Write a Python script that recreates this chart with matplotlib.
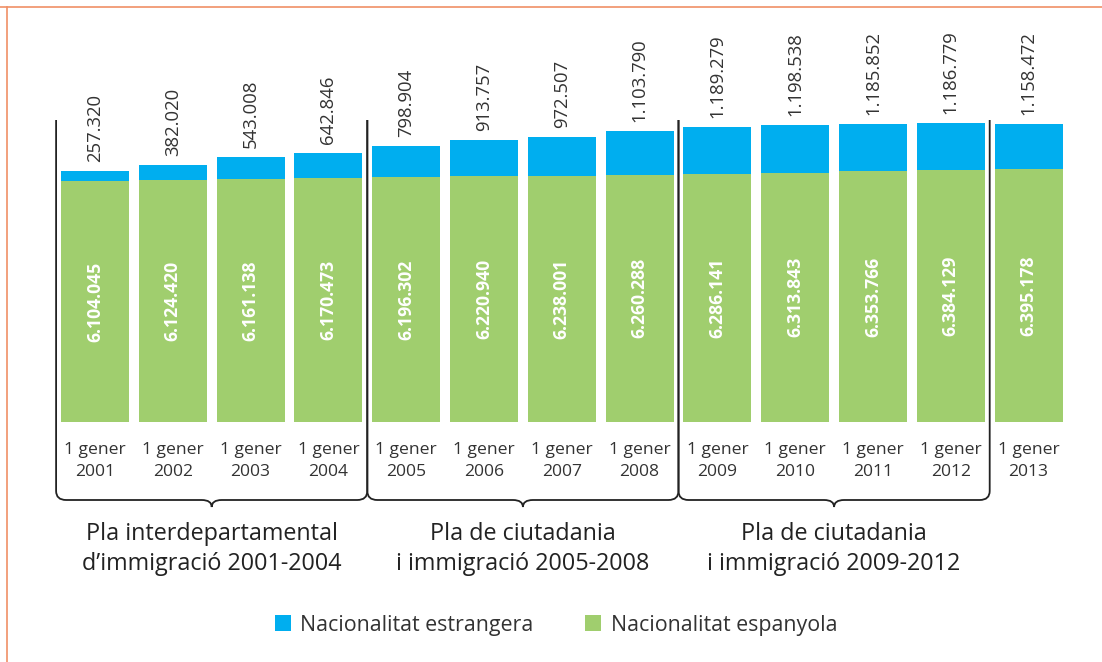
import numpy as np
import matplotlib.pyplot as plt
from matplotlib.path import Path
from matplotlib.patches import PathPatch

# Data: population by nationality on 1 January of each year
anys = ['2001', '2002', '2003', '2004', '2005', '2006', '2007',
        '2008', '2009', '2010', '2011', '2012', '2013']
estrangera = [257320, 382020, 543008, 642846, 798904, 913757, 972507,
              1103790, 1189279, 1198538, 1185852, 1186779, 1158472]
espanyola = [6104045, 6124420, 6161138, 6170473, 6196302, 6220940, 6238001,
             6260288, 6286141, 6313843, 6353766, 6384129, 6395178]
plans = ['Pla interdepartamental\nd\u2019immigraci\u00f3 2001-2004',
         'Pla de ciutadania\ni immigraci\u00f3 2005-2008',
         'Pla de ciutadania\ni immigraci\u00f3 2009-2012']

plt.rcParams['font.family'] = ['Open Sans', 'DejaVu Sans']

blau = '#00aeef'
verd = '#a0ce6e'
gris = '#333333'

def fmt(v):
    return f'{v:,}'.replace(',', '.')

W, H = 1102, 662
fig = plt.figure(figsize=(W / 100, H / 100), dpi=100)

# bars axes: x index, y value; zero sits at pixel 422, 39.5 px per million
step = 77.8
x0 = 95.0
xlim = (-x0 / step, (W - x0) / step)
ax = fig.add_axes([0, (H - 422) / H, 1, 422 / H])
ax.set_xlim(xlim)
ax.set_ylim(0, 422 / 39.5e-6)
ax.axis('off')

x = np.arange(len(anys))
b1 = ax.bar(x, espanyola, width=0.875, color=verd, linewidth=0)
b2 = ax.bar(x, estrangera, bottom=espanyola, width=0.875, color=blau, linewidth=0)

for i in range(len(anys)):
    ax.text(x[i], espanyola[i] / 2, fmt(espanyola[i]), rotation=90,
            ha='center', va='center', color='white', fontsize=12.7,
            fontweight='bold')
    ax.annotate(fmt(estrangera[i]), (x[i], espanyola[i] + estrangera[i]),
                xytext=(0, 6.5), textcoords='offset points', rotation=90,
                ha='center', va='bottom', color=gris, fontsize=13.3)

# overlay axes in pixel rows (from top) for labels and brackets
ov = fig.add_axes([0, 0, 1, 1])
ov.set_xlim(xlim)
ov.set_ylim(H, 0)
ov.axis('off')
ov.patch.set_alpha(0)

for i in range(len(anys)):
    ov.text(x[i], 461, '1 gener\n' + anys[i], ha='center', va='center',
            color=gris, fontsize=12.6, linespacing=1.5)

# curly brackets under each plan
r = 10 / step
for g in range(3):
    a = -0.5 + 4 * g
    b = 3.5 + 4 * g
    m = (a + b) / 2
    verts = [(a, 120), (a, 491), (a, 500), (a + r, 500), (m - r, 500),
             (m, 500), (m, 507), (m, 500), (m + r, 500), (b - r, 500),
             (b, 500), (b, 491), (b, 120)]
    codes = [Path.MOVETO, Path.LINETO, Path.CURVE3, Path.CURVE3, Path.LINETO,
             Path.CURVE3, Path.CURVE3, Path.CURVE3, Path.CURVE3, Path.LINETO,
             Path.CURVE3, Path.CURVE3, Path.LINETO]
    ov.add_patch(PathPatch(Path(verts, codes), facecolor='none',
                           edgecolor='#222222', lw=1.3))
    ov.text(m, 549, plans[g], ha='center', va='center', color='#222222',
            fontsize=16.8, linespacing=1.3)

# orange frame (top and left)
ov.plot([xlim[0], xlim[1]], [7, 7], color='#f09066', lw=1.2)
ov.plot([xlim[0] + 7 / step] * 2, [7, H], color='#f09066', lw=1.2)

fig.legend([b2, b1], ['Nacionalitat estrangera', 'Nacionalitat espanyola'],
           loc='center', bbox_to_anchor=(556 / W, 1 - 625 / H), ncol=2,
           frameon=False, fontsize=15.4, handlelength=0.75, handleheight=0.75,
           handletextpad=0.45, columnspacing=2.4, labelcolor=gris)

fig.savefig('out.png', dpi=100)
